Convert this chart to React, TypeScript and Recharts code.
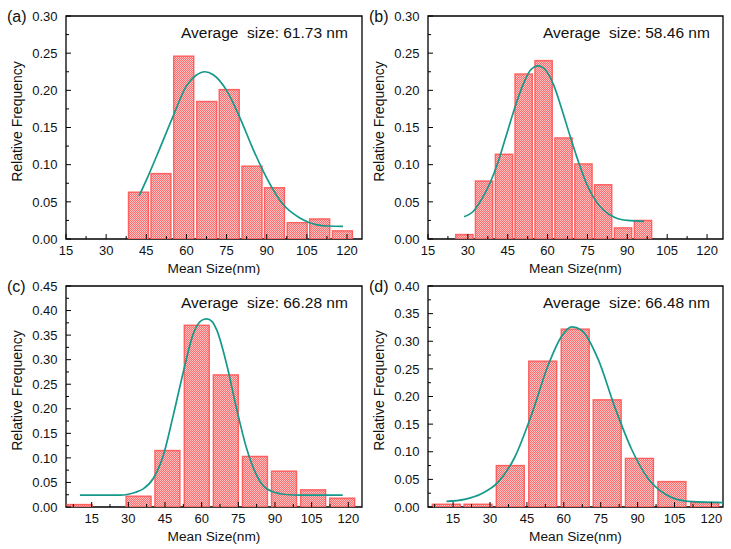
import React from 'react';
import { ComposedChart, Bar, Line, XAxis, YAxis, ReferenceArea } from 'recharts';

const FONT = '"Liberation Sans", Arial, Helvetica, sans-serif';
const FIT_COLOR = '#14998a';

// ---- (a) ----
const binsA = [42.1, 50.5, 59.0, 67.6, 76.0, 84.5, 92.9, 101.4, 109.8, 118.3];
const freqA = [0.063, 0.088, 0.246, 0.185, 0.201, 0.098, 0.069, 0.022, 0.027, 0.011];
const fitXA = [42.3, 45.6, 48.8, 55, 60, 63.5, 66.9, 70, 75, 80, 85, 90, 96, 102.5, 108.8, 113, 118.5];
const fitYA = [0.058, 0.084, 0.111, 0.165, 0.206, 0.220, 0.225, 0.221, 0.200, 0.163, 0.120, 0.082, 0.047, 0.028, 0.019, 0.0175, 0.017];

// ---- (b) ----
const binsB = [28.7, 36.1, 43.6, 51.0, 58.5, 66.0, 73.5, 80.9, 88.4, 95.9];
const freqB = [0.006, 0.078, 0.114, 0.222, 0.240, 0.136, 0.101, 0.073, 0.015, 0.025];
const fitXB = [28.6, 32, 35.1, 38.3, 41.4, 44.5, 47.6, 50.7, 53.5, 56.4, 59.3, 62.3, 65.4, 68.5, 71.6, 74.7, 77.8, 81, 85.3, 90, 96.3];
const fitYB = [0.030, 0.037, 0.053, 0.075, 0.104, 0.140, 0.176, 0.207, 0.227, 0.233, 0.227, 0.207, 0.174, 0.138, 0.104, 0.074, 0.053, 0.039, 0.029, 0.025, 0.0237];

// ---- (c) ----
const binsC = [10.1, 22.0, 34.2, 46.0, 58.0, 69.9, 81.8, 93.7, 105.6, 117.5];
const freqC = [0.005, 0, 0.022, 0.115, 0.370, 0.269, 0.103, 0.073, 0.035, 0.018];
const fitXC = [10.2, 20, 26.6, 30, 33, 36.1, 40.2, 44.3, 48.4, 52.5, 56.6, 60, 62.1, 64.2, 66.2, 70.3, 74.3, 78.4, 82.5, 86.6, 93.4, 100.3, 117.7];
const fitYC = [0.024, 0.024, 0.024, 0.026, 0.030, 0.037, 0.058, 0.105, 0.187, 0.275, 0.353, 0.380, 0.383, 0.378, 0.360, 0.289, 0.200, 0.119, 0.0645, 0.037, 0.026, 0.024, 0.024];

// ---- (d) ----
const binsD = [12.3, 25.2, 38.3, 51.5, 64.7, 77.7, 90.8, 104.0, 117.3];
const freqD = [0.005, 0.005, 0.075, 0.264, 0.322, 0.194, 0.088, 0.046, 0.008];
const fitXD = [12.3, 19.7, 26.5, 33.3, 40.1, 46.8, 53.6, 59, 63.1, 67.2, 73.9, 80.7, 87.5, 94.3, 101, 107.8, 114.6, 124.7];
const fitYD = [0.0103, 0.0139, 0.024, 0.045, 0.0905, 0.166, 0.256, 0.308, 0.326, 0.320, 0.268, 0.181, 0.105, 0.0513, 0.024, 0.012, 0.0091, 0.008];

// Axis labels
const xMajorTicks = [15, 30, 45, 60, 75, 90, 105, 120];
const yMajorTicks30 = [0, 0.05, 0.1, 0.15, 0.2, 0.25, 0.3];
const yMajorTicks45 = [0, 0.05, 0.1, 0.15, 0.2, 0.25, 0.3, 0.35, 0.4, 0.45];
const yMajorTicks40 = [0, 0.05, 0.1, 0.15, 0.2, 0.25, 0.3, 0.35, 0.4];
const averages = ['61.73', '58.46', '66.28', '66.48'];
const letters = ['(a)', '(b)', '(c)', '(d)'];

type Panel = {
  key: string;
  letter: string;
  avg: string;
  bins: number[];
  freq: number[];
  fitX: number[];
  fitY: number[];
  xDomain: [number, number];
  yMajor: number[];
  barPx: number;
  left: number;
  top: number;
  yAxisW: number;
  marginRight: number;
  marginTop: number;
  xAxisH: number;
};

const panels: Panel[] = [
  { key: 'a', letter: letters[0], avg: averages[0], bins: binsA, freq: freqA, fitX: fitXA, fitY: fitYA,
    xDomain: [15, 125.6], yMajor: yMajorTicks30, barPx: 20, left: 0, top: 0, yAxisW: 66, marginRight: 3, marginTop: 16, xAxisH: 36 },
  { key: 'b', letter: letters[1], avg: averages[1], bins: binsB, freq: freqB, fitX: fitXB, fitY: fitYB,
    xDomain: [15, 126], yMajor: yMajorTicks30, barPx: 17.3, left: 365, top: 0, yAxisW: 63, marginRight: 7, marginTop: 16, xAxisH: 36 },
  { key: 'c', letter: letters[2], avg: averages[2], bins: binsC, freq: freqC, fitX: fitXC, fitY: fitYC,
    xDomain: [4.5, 125.6], yMajor: yMajorTicks45, barPx: 25, left: 0, top: 275, yAxisW: 66, marginRight: 3, marginTop: 11, xAxisH: 43 },
  { key: 'd', letter: letters[3], avg: averages[3], bins: binsD, freq: freqD, fitX: fitXD, fitY: fitYD,
    xDomain: [4.8, 124.7], yMajor: yMajorTicks40, barPx: 28, left: 365, top: 275, yAxisW: 63, marginRight: 7, marginTop: 11, xAxisH: 43 },
];

// Major ticks plus one minor tick halfway between (and beyond) each pair, kept inside the domain
const withMinor = (majors: number[], lo: number, hi: number) => {
  const step = majors[1] - majors[0];
  const all: number[] = [];
  majors.forEach((m, i) => {
    all.push(m);
    all.push(m + step / 2);
    if (i === 0) all.push(m - step / 2);
  });
  return all
    .map((v) => Math.round(v * 10000) / 10000)
    .filter((v) => v >= lo - 1e-9 && v <= hi + 1e-9)
    .sort((p, q) => p - q);
};

const isMajor = (v: number, majors: number[]) => majors.some((m) => Math.abs(m - v) < 1e-6);

const makeXTick = (majors: number[]) => (props: any) => {
  const { x, y, payload } = props;
  const v = payload.value as number;
  const major = isMajor(v, majors);
  return (
    <g>
      <line x1={x} x2={x} y1={y} y2={y - (major ? 5 : 3)} stroke="#000" strokeWidth={1} />
      {major && (
        <text x={x} y={y + 16} textAnchor="middle" fontSize={13} fontFamily={FONT} fill="#111">
          {v}
        </text>
      )}
    </g>
  );
};

const makeYTick = (majors: number[]) => (props: any) => {
  const { x, y, payload } = props;
  const v = payload.value as number;
  const major = isMajor(v, majors);
  return (
    <g>
      <line x1={x} x2={x + (major ? 5 : 3)} y1={y} y2={y} stroke="#000" strokeWidth={1} />
      {major && (
        <text x={x - 8.5} y={y} dy="0.36em" textAnchor="end" fontSize={13} fontFamily={FONT} fill="#111">
          {v.toFixed(2)}
        </text>
      )}
    </g>
  );
};

const makeBarShape = (px: number, patternId: string) => (props: any) => {
  const { x, y, width, height } = props;
  if (!(height > 0.01)) return <g />;
  const cx = x + width / 2;
  return (
    <g>
      <rect x={cx - px / 2} y={y} width={px} height={height} fill="#ffc2c2" />
      <rect
        x={cx - px / 2}
        y={y}
        width={px}
        height={height}
        fill={`url(#${patternId})`}
        stroke="#ff4f4f"
        strokeOpacity={0.85}
        strokeWidth={1.4}
      />
    </g>
  );
};

const makePanelText = (p: Panel) => (props: any) => {
  const vb = props.viewBox || {};
  const { x, y, width, height } = vb;
  return (
    <g fontFamily={FONT} fill="#111">
      <text x={x - 59} y={y + 6} fontSize={16}>{p.letter}</text>
      <text x={x + 115} y={y + 21.5} fontSize={15.5} style={{ whiteSpace: 'pre' }}>
        {`Average  size: ${p.avg} nm`}
      </text>
      <text x={x + width / 2} y={y + height + 34} textAnchor="middle" fontSize={13.7}>
        Mean Size(nm)
      </text>
      <text
        transform={`translate(${x - 44},${y + height / 2 - 6}) rotate(-90)`}
        textAnchor="middle"
        fontSize={14}
      >
        Relative Frequency
      </text>
    </g>
  );
};

function HistogramPanel({ p }: { p: Panel }) {
  const barData = p.bins.map((b, i) => ({ size: b, freq: p.freq[i] }));
  const fitData = p.fitX.map((fx, i) => ({ size: fx, fit: p.fitY[i] }));
  const yMax = p.yMajor[p.yMajor.length - 1];
  const xTicks = withMinor(xMajorTicks, p.xDomain[0], p.xDomain[1]);
  const yTicks = withMinor(p.yMajor, 0, yMax);
  const patternId = `hatch-${p.key}`;
  return (
    <div style={{ position: 'absolute', left: p.left, top: p.top, width: 365, height: 275 }}>
      <ComposedChart
        width={365}
        height={275}
        data={barData}
        margin={{ top: p.marginTop, right: p.marginRight, bottom: 0, left: 0 }}
      >
        <defs>
          <pattern id={patternId} width={4} height={4} patternUnits="userSpaceOnUse">
            <rect x={0} y={0} width={1} height={1} fill="#ff6e6e" shapeRendering="crispEdges" />
            <rect x={2} y={0} width={1} height={1} fill="#ff6e6e" shapeRendering="crispEdges" />
            <rect x={1} y={1} width={1} height={1} fill="#ff6e6e" shapeRendering="crispEdges" />
            <rect x={3} y={1} width={1} height={1} fill="#ff6e6e" shapeRendering="crispEdges" />
            <rect x={0} y={2} width={1} height={1} fill="#ff6e6e" shapeRendering="crispEdges" />
            <rect x={2} y={2} width={1} height={1} fill="#ff6e6e" shapeRendering="crispEdges" />
            <rect x={1} y={3} width={1} height={1} fill="#ff6e6e" shapeRendering="crispEdges" />
            <rect x={3} y={3} width={1} height={1} fill="#ff6e6e" shapeRendering="crispEdges" />
          </pattern>
        </defs>
        <XAxis
          dataKey="size"
          type="number"
          domain={p.xDomain}
          allowDataOverflow
          ticks={xTicks}
          interval={0}
          height={p.xAxisH}
          axisLine={false}
          tickLine={false}
          tickSize={0}
          tickMargin={0}
          tick={makeXTick(xMajorTicks)}
        />
        <YAxis
          type="number"
          domain={[0, yMax]}
          allowDataOverflow
          ticks={yTicks}
          interval={0}
          width={p.yAxisW}
          axisLine={false}
          tickLine={false}
          tickSize={0}
          tickMargin={0}
          tick={makeYTick(p.yMajor)}
        />
        <Bar dataKey="freq" barSize={p.barPx} isAnimationActive={false} shape={makeBarShape(p.barPx, patternId)} />
        <Line
          data={fitData}
          dataKey="fit"
          type="monotone"
          stroke={FIT_COLOR}
          strokeWidth={1.7}
          dot={false}
          activeDot={false}
          isAnimationActive={false}
        />
        <ReferenceArea
          x1={p.xDomain[0]}
          x2={p.xDomain[1]}
          y1={0}
          y2={yMax}
          fill="none"
          fillOpacity={0}
          stroke="#000"
          strokeWidth={1.3}
          ifOverflow="visible"
          label={makePanelText(p)}
        />
      </ComposedChart>
    </div>
  );
}

export default function App() {
  return (
    <div style={{ position: 'absolute', left: 0, top: 0, width: 731, height: 549, background: '#fff' }}>
      {panels.map((p) => (
        <HistogramPanel key={p.key} p={p} />
      ))}
    </div>
  );
}
